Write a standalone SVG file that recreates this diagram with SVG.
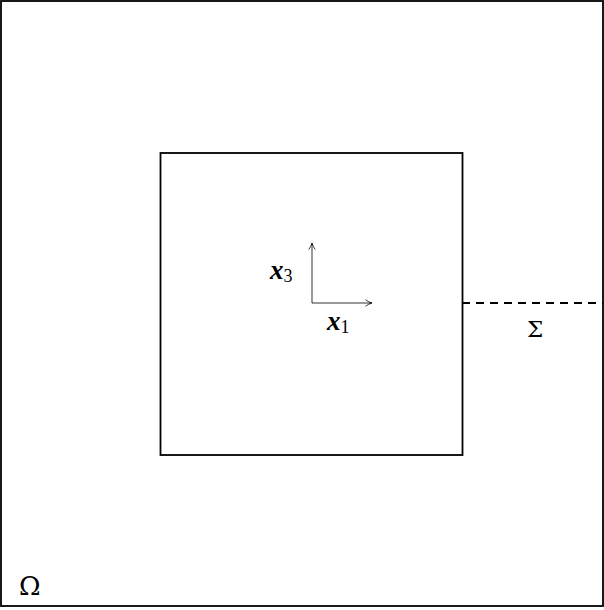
<svg xmlns="http://www.w3.org/2000/svg" width="604" height="610" viewBox="0 0 604 610">
<defs>
<style>
.frame{fill:none;stroke:#000;stroke-width:1.8}
.ax{fill:none;stroke:#000;stroke-width:0.8}
.t{font-family:"Liberation Serif","DejaVu Serif",serif;fill:#000}
.g{font-family:"DejaVu Serif","Liberation Serif",serif;fill:#000}
.b{font-weight:bold;font-style:italic;font-size:27px}
.s{font-size:18px}
</style>
<marker id="ah" viewBox="0 0 10 10" refX="9" refY="5" markerWidth="8" markerHeight="8" orient="auto" markerUnits="userSpaceOnUse">
<path d="M1,1 Q5,4 9,5 Q5,6 1,9" fill="none" stroke="#000" stroke-width="1"/>
</marker>
</defs>
<rect width="604" height="610" fill="#fff"/>
<g id="omega">
<rect class="frame" x="1" y="1" width="602" height="605"/>
<text class="g" x="19" y="595" style="font-size:26px">Ω</text>
</g>
<g id="inner">
<rect class="frame" x="160.5" y="153" width="302" height="302"/>
</g>
<g id="connectors">
<line class="ax" x1="312" y1="303" x2="312" y2="243" marker-end="url(#ah)"/>
<line class="ax" x1="312" y1="303" x2="372" y2="303" marker-end="url(#ah)"/>
<line x1="462" y1="303" x2="603" y2="303" stroke="#000" stroke-width="1.8" stroke-dasharray="8,6"/>
</g>
<g id="labels">
<text class="t" x="270" y="279"><tspan class="b">x</tspan><tspan class="s" dy="3">3</tspan></text>
<text class="t" x="327" y="330"><tspan class="b">x</tspan><tspan class="s" dy="3">1</tspan></text>
<text class="g" x="527" y="337" style="font-size:23px">Σ</text>
</g>
</svg>
